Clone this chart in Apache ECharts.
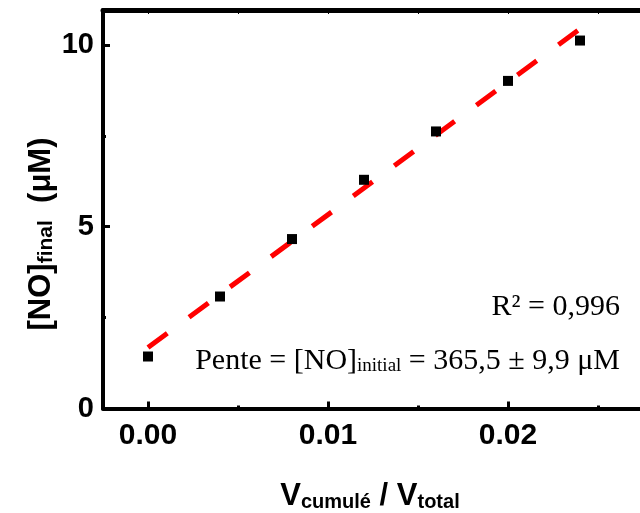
<!DOCTYPE html>
<html>
<head>
<meta charset="utf-8">
<script src="https://cdn.jsdelivr.net/npm/echarts@6/dist/echarts.min.js"></script>
<style>html,body{margin:0;padding:0;background:#fff}#c{width:640px;height:513px}</style>
</head>
<body>
<div id="c"></div>
<script>
// ---- data ----
const xVals = [0, 0.004, 0.008, 0.012, 0.016, 0.020, 0.024];
const yVals = [1.43, 3.08, 4.66, 6.29, 7.62, 9.01, 10.12];
const fitX = [0, 0.024];
const fitY = [1.68, 10.44];
const xMajorTicks = [0, 0.01, 0.02];
const xMinorTicks = [0.005, 0.015, 0.025];
const xTopTicks = [0, 0.005, 0.01, 0.015, 0.02, 0.025];
const yMajorTicks = [0, 5, 10];
const yMinorTicks = [2.5, 7.5];
const r2Text = '0,996';
const slopeText = '365,5 ± 9,9 μM';

const chart = echarts.init(document.getElementById('c'), null, {renderer: 'canvas'});
const SANS = 'Liberation Sans, Arial, sans-serif';
const SERIF = 'Liberation Serif, Times New Roman, serif';
const XMIN = -0.0025, XMAX = 0.0275, YMIN = 0, YMAX = 10.96;
const axisLine = {show: true, onZero: false, lineStyle: {color: '#000', width: 4}};

function xAxisBase(extra) {
  return Object.assign({
    type: 'value', min: XMIN, max: XMAX, gridIndex: 0,
    splitLine: {show: false}, axisLabel: {show: false},
    axisLine: {show: false, onZero: false}, axisTick: {show: false}
  }, extra);
}
function yAxisBase(extra) {
  return Object.assign({
    type: 'value', min: YMIN, max: YMAX, gridIndex: 0,
    splitLine: {show: false}, axisLabel: {show: false},
    axisLine: {show: false, onZero: false}, axisTick: {show: false}
  }, extra);
}

const subRich = (fam, bold, big, small, lh) => ({
  b: {fontFamily: fam, fontWeight: bold ? 'bold' : 'normal', fontSize: big, lineHeight: lh, verticalAlign: 'bottom', fill: '#000'},
  s: {fontFamily: fam, fontWeight: bold ? 'bold' : 'normal', fontSize: small, lineHeight: small, verticalAlign: 'bottom', fill: '#000'}
});

const option = {
  backgroundColor: '#fff',
  animation: false,
  grid: {left: 103, top: 10, width: 540, height: 398.5, outerBoundsMode: 'none', containLabel: false},
  xAxis: [
    xAxisBase({
      position: 'bottom',
      axisLine: axisLine,
      axisTick: {show: true, inside: true, length: 7, lineStyle: {color: '#000', width: 3}, customValues: xMajorTicks},
      axisLabel: {show: true, customValues: xMajorTicks, margin: 12, color: '#000', fontFamily: SANS, fontWeight: 'bold', fontSize: 30,
        formatter: v => v.toFixed(2)}
    }),
    xAxisBase({
      position: 'bottom',
      axisTick: {show: true, inside: true, length: 3, lineStyle: {color: '#000', width: 3}, customValues: xMinorTicks}
    }),
    xAxisBase({
      position: 'top',
      axisLine: {show: true, onZero: false, lineStyle: {color: '#000', width: 5}},
      axisTick: {show: true, inside: true, length: 4, lineStyle: {color: '#000', width: 1}, customValues: xTopTicks}
    })
  ],
  yAxis: [
    yAxisBase({
      position: 'left',
      axisLine: axisLine,
      axisTick: {show: true, inside: true, length: 7, lineStyle: {color: '#000', width: 3}, customValues: yMajorTicks},
      axisLabel: {show: true, customValues: yMajorTicks, margin: 9, color: '#000', fontFamily: SANS, fontWeight: 'bold', fontSize: 29}
    }),
    yAxisBase({
      position: 'left',
      axisTick: {show: true, inside: true, length: 3, lineStyle: {color: '#000', width: 3}, customValues: yMinorTicks}
    })
  ],
  series: [
    {
      type: 'line', xAxisIndex: 0, yAxisIndex: 0,
      data: fitX.map((x, i) => [x, fitY[i]]),
      showSymbol: false, symbol: 'none',
      lineStyle: {color: '#ff0000', width: 5, type: [24, 27], cap: 'butt'},
      z: 2
    },
    {
      type: 'scatter', xAxisIndex: 0, yAxisIndex: 0,
      data: xVals.map((x, i) => [x, yVals[i]]),
      symbol: 'rect', symbolSize: 10,
      itemStyle: {color: '#000', opacity: 1},
      z: 3
    }
  ],
  graphic: [
    {
      type: 'text', x: 30, y: 234, rotation: Math.PI / 2,
      style: {
        text: '{b|[NO]}{s|final}{b|  (μM)}',
        align: 'center', verticalAlign: 'middle',
        rich: subRich(SANS, true, 31, 21, 54)
      }
    },
    {
      type: 'text', x: 370, y: 484,
      style: {
        text: '{b|V}{s|cumulé}{b| / V}{s|total}',
        align: 'center', verticalAlign: 'middle',
        rich: subRich(SANS, true, 31, 20, 56)
      }
    },
    {
      type: 'text', x: 620, y: 307,
      style: {
        text: 'R² = ' + r2Text, align: 'right', verticalAlign: 'middle',
        font: '30px ' + SERIF, fill: '#000'
      }
    },
    {
      type: 'text', x: 620, y: 351,
      style: {
        text: '{b|Pente = [NO]}{s|initial}{b| = ' + slopeText + '}',
        align: 'right', verticalAlign: 'middle',
        rich: subRich(SERIF, false, 30, 19, 50)
      }
    }
  ]
};
chart.setOption(option);
</script>
</body>
</html>
